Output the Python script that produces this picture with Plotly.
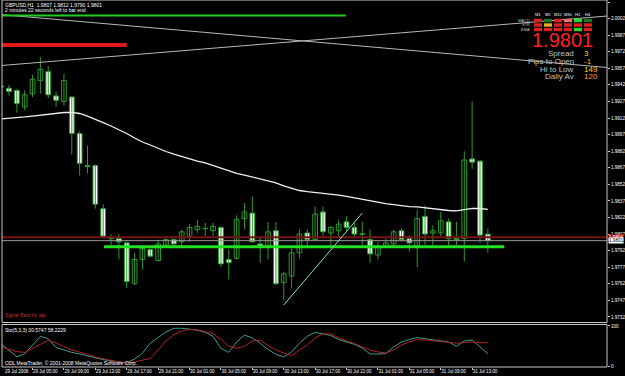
import pandas as pd
import plotly.graph_objects as go

W, H = 625, 376

# ---------------- data ----------------
times = pd.date_range("2008-07-29 01:00", periods=63, freq="h")
bar_idx = list(range(len(times)))

opens = [1.9941, 1.9939, 1.9937, 1.9922, 1.9934, 1.9946, 1.9954, 1.9932, 1.9927, 1.9931,
         1.9898, 1.9869, 1.9869, 1.9830, 1.9803, 1.9803, 1.9799, 1.9762, 1.9784, 1.9793,
         1.9783, 1.9797, 1.9802, 1.9800, 1.9805, 1.9811, 1.9812, 1.9810, 1.9813, 1.9784,
         1.9785, 1.9821, 1.9826, 1.9798, 1.9796, 1.9810, 1.9763, 1.9769, 1.9790, 1.9808,
         1.9802, 1.9827, 1.9808, 1.9810, 1.9818, 1.9813, 1.9807, 1.9802, 1.9788, 1.9796,
         1.9798, 1.9810, 1.9803, 1.9796, 1.9823, 1.9808, 1.9808, 1.9818, 1.9803, 1.9803,
         1.9875, 1.9873, 1.9807]
highs = [1.9942, 1.9942, 1.9938, 1.9937, 1.9951, 1.9967, 1.9959, 1.9936, 1.9952, 1.9932,
         1.9900, 1.9887, 1.9870, 1.9834, 1.9807, 1.9807, 1.9800, 1.9790, 1.9797, 1.9794,
         1.9802, 1.9803, 1.9803, 1.9811, 1.9816, 1.9820, 1.9817, 1.9817, 1.9814, 1.9793,
         1.9824, 1.9835, 1.9841, 1.9804, 1.9818, 1.9818, 1.9773, 1.9794, 1.9811, 1.9811,
         1.9832, 1.9832, 1.9814, 1.9820, 1.9823, 1.9817, 1.9818, 1.9811, 1.9800, 1.9803,
         1.9811, 1.9812, 1.9806, 1.9829, 1.9833, 1.9815, 1.9827, 1.9821, 1.9818, 1.9882,
         1.9927, 1.9874, 1.9812]
lows = [1.9938, 1.9932, 1.9917, 1.9919, 1.9931, 1.9934, 1.9930, 1.9922, 1.9923, 1.9879,
        1.9860, 1.9862, 1.9830, 1.9803, 1.9796, 1.9784, 1.9758, 1.9761, 1.9775, 1.9786,
        1.9782, 1.9796, 1.9795, 1.9794, 1.9800, 1.9808, 1.9805, 1.9805, 1.9777, 1.9766,
        1.9784, 1.9811, 1.9799, 1.9781, 1.9784, 1.9761, 1.9747, 1.9758, 1.9785, 1.9794,
        1.9801, 1.9805, 1.9796, 1.9805, 1.9810, 1.9805, 1.9797, 1.9781, 1.9784, 1.9795,
        1.9795, 1.9800, 1.9791, 1.9777, 1.9797, 1.9794, 1.9805, 1.9797, 1.9797, 1.9782,
        1.9866, 1.9799, 1.9790]
closes = [1.9940, 1.9936, 1.9925, 1.9933, 1.9947, 1.9956, 1.9933, 1.9928, 1.9946, 1.9898,
          1.9871, 1.9868, 1.9834, 1.9805, 1.9803, 1.9800, 1.9764, 1.9784, 1.9794, 1.9787,
          1.9798, 1.9802, 1.9798, 1.9809, 1.9813, 1.9814, 1.9812, 1.9814, 1.9780, 1.9781,
          1.9820, 1.9827, 1.9800, 1.9796, 1.9809, 1.9762, 1.9771, 1.9790, 1.9807, 1.9802,
          1.9825, 1.9809, 1.9813, 1.9816, 1.9813, 1.9807, 1.9807, 1.9789, 1.9796, 1.9799,
          1.9809, 1.9802, 1.9799, 1.9821, 1.9807, 1.9810, 1.9819, 1.9803, 1.9802, 1.9874,
          1.9872, 1.9806, 1.9801]
ma_values = [1.99111, 1.99115, 1.99120, 1.99130, 1.99138, 1.99147, 1.99156, 1.99161, 1.99170, 1.99172,
             1.99161, 1.99138, 1.99111, 1.99079, 1.99048, 1.99016, 1.98980, 1.98939, 1.98903, 1.98876,
             1.98844, 1.98817, 1.98794, 1.98772, 1.98754, 1.98731, 1.98713, 1.98690, 1.98668, 1.98641,
             1.98618, 1.98604, 1.98586, 1.98568, 1.98550, 1.98532, 1.98505, 1.98482, 1.98464, 1.98453,
             1.98446, 1.98437, 1.98430, 1.98423, 1.98410, 1.98396, 1.98383, 1.98369, 1.98355, 1.98346,
             1.98337, 1.98327, 1.98319, 1.98315, 1.98306, 1.98297, 1.98292, 1.98283, 1.98279, 1.98292,
             1.98303, 1.98301, 1.98294]
stoch_main = [55, 40, 23, 30, 52, 74, 68, 46, 40, 34, 30, 25, 20, 16, 12.5, 10.5, 8, 17.5, 32, 57,
              71, 85, 94, 94, 92, 89, 84, 74, 44, 34, 60, 77, 70, 57, 41, 29, 22.5, 35, 57, 74,
              84, 80, 76, 66, 60, 54, 45, 30, 30, 31, 47.5, 60, 66, 71, 68, 65, 62.5, 60, 49, 62.5,
              65, 48, 30.5747]
stoch_signal = [47.5, 41, 36, 34, 44, 55, 64, 57.5, 47.5, 40, 35, 29, 22.5, 17.5, 14, 10, 7.5, 10, 15, 19,
                40, 62.5, 77.5, 87.5, 91, 90, 86, 81, 66, 50, 44, 49, 62.5, 64, 51, 40, 32.5, 25.5, 40, 52.5,
                70, 80, 80, 70, 62.5, 56, 47.5, 40, 35, 32.5, 40, 52.5, 60, 66, 65, 62.5, 61, 59, 57, 59,
                60, 58, 58.2229]

# chart objects (bar index / price)
trend_desc_x, trend_desc_p = [0.0, 77.2], [2.00056, 1.99577]
trend_asc_x, trend_asc_p = [0.0, 77.2], [1.99595, 2.00043]
green_top_x, green_top_p = [0.0, 43.9], [2.00048, 2.00048]
red_top_x, red_top_p = [0.0, 16.0], [1.99781, 1.99781]
support_x, support_p = [13.1, 64.1], [1.97955, 1.97955]
cyan_x, cyan_p = [36.0, 46.0], [1.97428, 1.98260]
day_open_price = 1.98040
bid_price = 1.9801

price_ticks = [2.0017 - 0.0015 * i for i in range(20)]
tf_labels = ["M1", "M5", "M15", "M30", "H1", "H4"]
row_labels = ["MACD", "STR", "EMA"]
cell_colors = [["#e02020", "#1e7a1e", "#e02020", "#f07070", "#22dd22", "#1e7a1e"],
               ["#e02020", "#e0b020", "#e02020", "#e02020", "#e02020", "#e02020"],
               ["#e02020", "#e02020", "#e02020", "#e02020", "#22dd22", "#e02020"]]
info_labels = ["Spread", "Pips to Open", "Hi to Low", "Daily Av"]
info_values = ["3", "-1", "149", "120"]
info_colors = ["#ffd21a", "#ffc21a", "#ffd21a", "#ff9a3a"]

# ---------------- figure ----------------
def px(x):
    return x / W

def py(y):
    return 1 - y / H

FONT = "Liberation Sans"
WICK = "#2a9a2a"
fig = go.Figure()

# wicks
wx, wy = [], []
for i, hi, lo in zip(bar_idx, highs, lows):
    wx += [i, i, None]
    wy += [lo, hi, None]
fig.add_trace(go.Scatter(x=wx, y=wy, mode="lines", line=dict(color=WICK, width=1),
                         hoverinfo="skip", showlegend=False, xaxis="x", yaxis="y"))

# bodies
min_body = 0.00004
for up in (True, False):
    xs, base, hgt = [], [], []
    for i, o, c in zip(bar_idx, opens, closes):
        if (c > o) == up:
            lo_b = min(o, c)
            h = max(abs(c - o), min_body)
            xs.append(i)
            base.append(lo_b if abs(c - o) >= min_body else lo_b - min_body / 2)
            hgt.append(h)
    fig.add_trace(go.Bar(x=xs, y=hgt, base=base, width=0.6,
                         marker=dict(color="#000000" if up else "#ffffff",
                                     line=dict(color=WICK, width=1)),
                         hoverinfo="skip", showlegend=False, xaxis="x", yaxis="y"))

def line(xs, ys, color, width, yaxis="y"):
    fig.add_trace(go.Scatter(x=xs, y=ys, mode="lines", line=dict(color=color, width=width),
                             xaxis="x" if yaxis == "y" else "x2", yaxis=yaxis,
                             hoverinfo="skip", showlegend=False))

line([0, 80], [day_open_price, day_open_price], "#7a1414", 2)
line([0, 80], [bid_price, bid_price], "#9a9a9a", 1)
line(bar_idx, ma_values, "#f0f0f0", 1.3)
line(trend_desc_x, trend_desc_p, "#b8b8b8", 1)
line(trend_asc_x, trend_asc_p, "#b8b8b8", 1)
line(green_top_x, green_top_p, "#22cc22", 2)
line(red_top_x, red_top_p, "#e01a1a", 4)
line(support_x, support_p, "#22e022", 3)
line(cyan_x, cyan_p, "#7fe6c8", 1)

line(bar_idx, stoch_main, "#3f9a8f", 1, yaxis="y2")
line(bar_idx, stoch_signal, "#b02424", 1, yaxis="y2")

xr = [0.11, 77.18]
tick_pos = list(range(0, 61, 4))
tick_text = [("29 Jul 2008" if i == 0 else times[i].strftime("%d Jul %H:%M")) for i in tick_pos]

main_top, main_bot = 0, 322.5
sto_top, sto_bot = 324.5, 367
x_left, x_right = 2, 607
p_per_px = 0.0000905

fig.update_layout(
    width=W, height=H, margin=dict(l=0, r=0, t=0, b=0),
    paper_bgcolor="#000000", plot_bgcolor="#000000",
    font=dict(family=FONT, color="#ffffff", size=5),
    barmode="overlay",
    xaxis=dict(domain=[px(x_left), px(x_right)], range=xr, anchor="y", showticklabels=False,
               showgrid=False, zeroline=False, ticks=""),
    xaxis2=dict(domain=[px(x_left), px(x_right)], range=xr, anchor="y2", matches="x",
                tickvals=tick_pos[1:], ticktext=tick_text[1:], ticks="outside", ticklen=2, tickangle=0,
                tickcolor="#c8c8c8", ticklabelposition="outside right",
                tickfont=dict(size=4.5, color="#ffffff", family=FONT),
                showgrid=False, zeroline=False, automargin=False),
    yaxis=dict(domain=[py(main_bot), py(main_top)],
               range=[2.0017 - (main_bot - 2) * p_per_px, 2.0017 + 2 * p_per_px],
               side="right", anchor="x", tickvals=price_ticks,
               ticktext=[f"{v:.4f}" for v in price_ticks], ticks="outside", ticklen=2,
               tickcolor="#c8c8c8", tickfont=dict(size=4.6, color="#ffffff", family=FONT),
               showgrid=False, zeroline=False, automargin=False),
    yaxis2=dict(domain=[py(sto_bot), py(sto_top)], range=[-2.5, 103.5], side="right",
                anchor="x2", tickvals=[0, 100], ticktext=["0", "100"], ticks="outside", ticklen=2,
                tickcolor="#c8c8c8", tickfont=dict(size=4.6, color="#ffffff", family=FONT),
                showgrid=False, zeroline=False, automargin=False),
)

shapes = []
for xa, ya in (("x", "y"), ("x2", "y2")):
    shapes.append(dict(type="rect", xref=f"{xa} domain", yref=f"{ya} domain", x0=0, x1=1, y0=0, y1=1,
                       line=dict(color="#c8c8c8", width=1), layer="above"))

# indicator panel cells
col_x = [538, 548, 558, 568, 578, 588]
row_y = [20.5, 25, 29.5]
for r, row in enumerate(cell_colors):
    for c, col in enumerate(row):
        shapes.append(dict(type="rect", xref="paper", yref="paper",
                           x0=px(col_x[c] - 4), x1=px(col_x[c] + 4),
                           y0=py(row_y[r] + 1.7), y1=py(row_y[r] - 1.7),
                           fillcolor=col, line=dict(width=0), layer="above"))
fig.update_layout(shapes=shapes)

ann = []
def text(x, y, s, size=5, color="#ffffff", anchor="left"):
    ann.append(dict(x=px(x), y=py(y), xref="paper", yref="paper", text=s, showarrow=False,
                    xanchor=anchor, yanchor="middle", font=dict(size=size, color=color, family=FONT)))

text(3, 5, "GBPUSD,H1  1.9807 1.9812 1.9790 1.9801")
text(3, 10, "2 minutes 22 seconds left to bar end")
text(3, 315, "Signal Bars by aja", color="#c03030")
text(3, 330, "Sto(5,3,3) 30.5747 58.2229")
text(3, 362.5, "ODL MetaTrader, © 2001-2008 MetaQuotes Software Corp.")
# first time label (bar sits on the left frame)
ann.append(dict(x=px(3), y=py(371.5), xref="paper", yref="paper", text=tick_text[0],
                showarrow=False, xanchor="left", yanchor="middle",
                font=dict(size=4.5, color="#ffffff", family=FONT)))
for c, lab in enumerate(tf_labels):
    text(col_x[c], 15, lab, size=4, anchor="center")
for r, lab in enumerate(row_labels):
    text(532, row_y[r], lab, size=4, color="#c0c0c0", anchor="right")
text(562, 39.5, "1.9801", size=20, color="#ff1f1f", anchor="center")
for i, (lab, val, col) in enumerate(zip(info_labels, info_values, info_colors)):
    text(576, 54 + 7.6 * i, lab, size=8, color="#c0c0c0", anchor="right")
    text(582, 54 + 7.6 * i, val, size=8, color=col, anchor="left")

# price labels on the axis for horizontal lines
ann.append(dict(x=px(608), y=day_open_price, xref="paper", yref="y", text="1.9804", showarrow=False,
                xanchor="left", yanchor="middle", bgcolor="#c01818", borderpad=0,
                font=dict(size=4.6, color="#ffffff", family=FONT)))
ann.append(dict(x=px(608), y=bid_price, xref="paper", yref="y", text="1.9801", showarrow=False,
                xanchor="left", yanchor="middle", bgcolor="#ffffff", borderpad=0,
                font=dict(size=4.6, color="#000000", family=FONT)))
fig.update_layout(annotations=ann)

fig.write_html("out.html")
